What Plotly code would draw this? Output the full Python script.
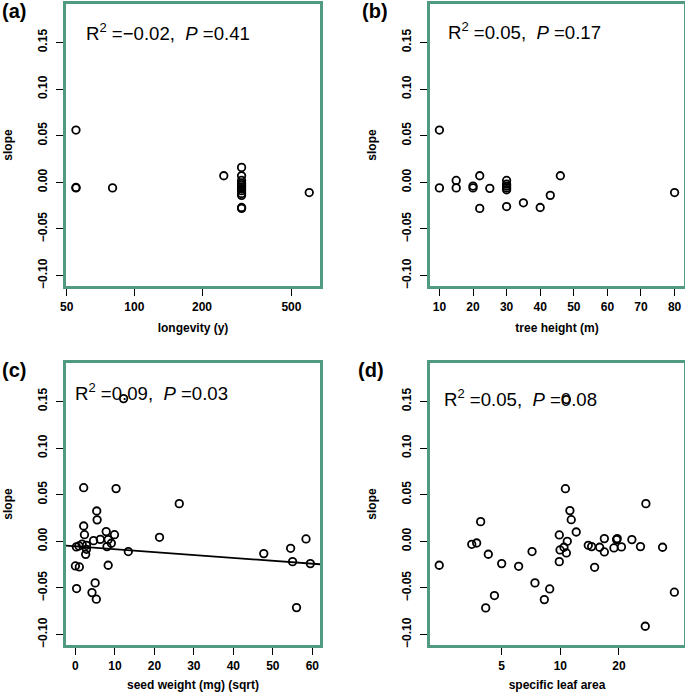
import plotly.graph_objects as go

# ---------------- data ----------------
# (a) longevity (y) vs slope
longevity = [55, 55, 55, 80, 250, 300, 300, 300, 300, 300, 300, 300, 300, 300, 300, 300, 300, 600]
slope_a = [0.056, -0.006, -0.0055, -0.006, 0.007, 0.016, 0.007, 0.002, -0.001, -0.003,
           -0.005, -0.007, -0.009, -0.012, -0.014, -0.027, -0.028, -0.011]

# (b) tree height (m) vs slope
tree_height = [10, 10, 15, 15, 20, 20, 22, 22, 25, 30, 30, 30, 30, 30, 30, 35, 40, 43, 46, 80]
slope_b = [0.056, -0.006, 0.002, -0.006, -0.004, -0.006, 0.007, -0.028, -0.0065, 0.002,
           -0.002, -0.004, -0.006, -0.008, -0.026, -0.022, -0.027, -0.014, 0.007, -0.011]

# (c) seed weight (mg) (sqrt) vs slope
seed_weight = [12.2, 2.1, 10.3, 26.3, 5.4, 5.5, 2.1, 2.3, 7.8, 9.9, 21.3, 4.6, 6.3, 8.3, 9.1,
               8.0, 0.25, 0.9, 1.7, 2.8, 2.8, 2.6, 13.4, 8.3, 0.0, 1.0, 0.3, 5.0, 4.2, 5.3,
               47.7, 54.5, 58.4, 55.0, 59.5, 56.0]
slope_c = [0.153, 0.0575, 0.0565, 0.0404, 0.0325, 0.023, 0.0164, 0.0071, 0.0104, 0.0071,
           0.0043, 0.0007, 0.0021, 0.0018, -0.0021, -0.0057, -0.006, -0.005, -0.003, -0.0043,
           -0.0086, -0.014, -0.011, -0.0257, -0.0264, -0.0275, -0.0507, -0.0446, -0.055, -0.0621,
           -0.0132, -0.0075, 0.0025, -0.0218, -0.0239, -0.0711]
fit_c_intercept = -0.0054
fit_c_slope = -0.00031

# (d) specific leaf area vs slope
sla = [2.39, 3.51, 3.72, 3.90, 4.14, 4.27, 4.59, 5.0, 6.11, 7.16, 7.41, 8.28, 8.82, 9.88,
       9.88, 9.97, 10.44, 10.74, 10.62, 10.74, 10.86, 11.2, 11.38, 12.07, 13.92, 14.48,
       15.0, 15.92, 16.83, 16.83, 18.85, 19.45, 19.6, 20.6, 23.3, 25.8, 27.5, 27.3, 33.5, 38.5]
slope_d = [-0.0257, -0.0032, -0.0018, 0.0211, -0.0714, -0.0139, -0.0582, -0.0239, -0.0268,
           -0.011, -0.0446, -0.0625, -0.0511, 0.0068, -0.0218, -0.0093, -0.0064, -0.0125,
           0.0564, 0.152, 0.0, 0.0329, 0.0232, 0.01, -0.0043, -0.0057, -0.0279, -0.0064,
           0.0029, -0.0114, -0.0071, 0.0018, 0.0029, -0.006, 0.0018, -0.0057, 0.0404, -0.0911,
           -0.0064, -0.0546]

stats_text = ["R<sup>2</sup> =\u22120.02,\u00a0\u00a0<i>P</i> =0.41",
              "R<sup>2</sup> =0.05,\u00a0\u00a0<i>P</i> =0.17",
              "R<sup>2</sup> =0.09,\u00a0\u00a0<i>P</i> =0.03",
              "R<sup>2</sup> =0.05,\u00a0\u00a0<i>P</i> =0.08"]
panel_labels = ["(a)", "(b)", "(c)", "(d)"]
x_titles = ["longevity (y)", "tree height (m)", "seed weight (mg) (sqrt)", "specific leaf area"]
y_ticks = [-0.10, -0.05, 0.00, 0.05, 0.10, 0.15]

# ---------------- figure ----------------
W, H = 685, 692
GREEN = "#4f9a80"
FONT = "Liberation Sans, Arial, sans-serif"

def px_x(v):
    return v / W

def px_y(v):
    return 1 - v / H

# panel boxes in pixels: (left, right, top, bottom)
boxes = [(66, 320, 4, 286), (430, 684, 4, 286), (66, 320, 363, 645), (430, 684, 363, 645)]

fig = go.Figure()

marker = dict(symbol="circle-open", size=7.5, color="black", line=dict(width=1.8, color="black"))
xs = [longevity, tree_height, seed_weight, sla]
ys = [slope_a, slope_b, slope_c, slope_d]
for i in range(4):
    sfx = "" if i == 0 else str(i + 1)
    fig.add_trace(go.Scatter(x=xs[i], y=ys[i], mode="markers", marker=marker,
                             xaxis="x" + sfx, yaxis="y" + sfx, showlegend=False,
                             cliponaxis=False))

# regression line in (c) across the plot region
xr_c = [-2.38, 61.94]
fig.add_trace(go.Scatter(x=xr_c, y=[fit_c_intercept + fit_c_slope * v for v in xr_c],
                         mode="lines", line=dict(color="black", width=1.8),
                         xaxis="x3", yaxis="y3", showlegend=False))

tickfont = dict(family=FONT, size=12, color="black", weight="bold")
titlefont = dict(family=FONT, size=12, color="black", weight="bold")
common = dict(showline=True, linecolor=GREEN, linewidth=2.5, mirror=True,
              ticks="outside", ticklen=7, tickcolor="black", tickwidth=1.2,
              showgrid=False, zeroline=False, tickfont=tickfont, automargin=False)

x_ranges = [[1.696, 2.826], [7.2, 82.8], [-2.38, 61.94], [0.331, 1.635]]
x_types = ["log", "linear", "linear", "log"]
x_tickvals = [[50, 100, 200, 500], [10, 20, 30, 40, 50, 60, 70, 80],
              [0, 10, 20, 30, 40, 50, 60], [5, 10, 20]]

layout = dict(width=W, height=H, margin=dict(l=0, r=0, t=0, b=0, autoexpand=False),
              plot_bgcolor="white", paper_bgcolor="white", showlegend=False)
for i in range(4):
    l, r, t, b = boxes[i]
    sfx = "" if i == 0 else str(i + 1)
    layout["xaxis" + sfx] = dict(common, domain=[px_x(l), px_x(r)], type=x_types[i],
                                 range=x_ranges[i], tickvals=x_tickvals[i],
                                 ticklabelstandoff=1,
                                 anchor="y" + sfx,
                                 title=dict(text=x_titles[i], font=titlefont, standoff=11))
    layout["yaxis" + sfx] = dict(common, domain=[px_y(b), px_y(t)], range=[-0.1112, 0.1912],
                                 tickvals=y_ticks, tickformat=".2f", tickangle=-90,
                                 ticklabelstandoff=4,
                                 anchor="x" + sfx,
                                 title=dict(text="slope", font=titlefont, standoff=22))
fig.update_layout(**layout)

# stats annotations and panel labels
stat_pos = [(84, 31.7), (446, 30.7), (73, 391.7), (442, 398)]
label_pos = [(0, 11), (360, 11), (0, 370), (356, 370)]
for i in range(4):
    fig.add_annotation(text=stats_text[i], xref="paper", yref="paper",
                       x=px_x(stat_pos[i][0]), y=px_y(stat_pos[i][1]),
                       xanchor="left", yanchor="middle", showarrow=False,
                       font=dict(family=FONT, size=18.6, color="black"))
    fig.add_annotation(text=panel_labels[i], xref="paper", yref="paper",
                       x=px_x(label_pos[i][0]), y=px_y(label_pos[i][1]),
                       xanchor="left", yanchor="middle", showarrow=False,
                       font=dict(family=FONT, size=20, color="black", weight="bold"))

fig.write_html("out.html", config={"displayModeBar": False},
               post_script="document.body.style.margin='0px';document.body.style.overflow='hidden';")
